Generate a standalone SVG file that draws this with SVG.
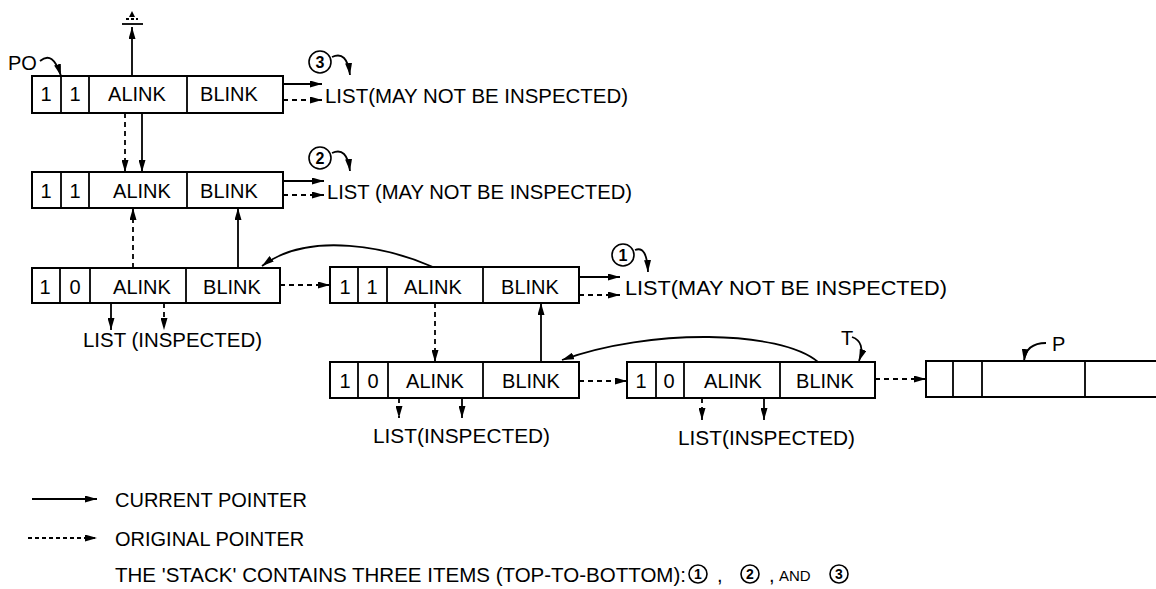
<svg xmlns="http://www.w3.org/2000/svg" width="1156" height="589" viewBox="0 0 1156 589">
<style>
.box{fill:#fff;stroke:#000;stroke-width:2}
.div{stroke:#000;stroke-width:1.8}
.t{font-family:"Liberation Sans",Arial,sans-serif;font-size:20px;fill:#000}
.c{text-anchor:middle}
.s{fill:none;stroke:#000;stroke-width:1.8}
.d{fill:none;stroke:#000;stroke-width:1.8;stroke-dasharray:5 4}
.ar{marker-end:url(#ah)}
.cir{fill:none;stroke:#000;stroke-width:1.6}
.n{font-size:16px;font-weight:bold}
.sn{font-size:14px;font-weight:bold}
</style>
<defs>
<marker id="ah" viewBox="0 0 12 7" refX="12" refY="3.5" markerWidth="12" markerHeight="7" markerUnits="userSpaceOnUse" orient="auto">
<path d="M0,0 L12,3.5 L0,7 Z" fill="#000"/>
</marker>
</defs>

<g id="node-r1">
<rect class="box" x="32" y="76" width="251" height="37"/>
<line class="div" x1="61" y1="76" x2="61" y2="113"/>
<line class="div" x1="89" y1="76" x2="89" y2="113"/>
<line class="div" x1="187" y1="76" x2="187" y2="113"/>
<text class="t c" x="46" y="101">1</text>
<text class="t c" x="75" y="101">1</text>
<text class="t c" x="137" y="101">ALINK</text>
<text class="t c" x="229" y="101">BLINK</text>
</g>

<g id="node-r2">
<rect class="box" x="32" y="172" width="251" height="36"/>
<line class="div" x1="61" y1="172" x2="61" y2="208"/>
<line class="div" x1="89" y1="172" x2="89" y2="208"/>
<line class="div" x1="187" y1="172" x2="187" y2="208"/>
<text class="t c" x="46" y="198">1</text>
<text class="t c" x="75" y="198">1</text>
<text class="t c" x="142" y="198">ALINK</text>
<text class="t c" x="229" y="198">BLINK</text>
</g>

<g id="node-r3l">
<rect class="box" x="32" y="268" width="248" height="35"/>
<line class="div" x1="60" y1="268" x2="60" y2="303"/>
<line class="div" x1="90" y1="268" x2="90" y2="303"/>
<line class="div" x1="186" y1="268" x2="186" y2="303"/>
<text class="t c" x="45" y="294">1</text>
<text class="t c" x="75" y="294">0</text>
<text class="t c" x="142" y="294">ALINK</text>
<text class="t c" x="232" y="294">BLINK</text>
</g>

<g id="node-r3r">
<rect class="box" x="330" y="267" width="249" height="36"/>
<line class="div" x1="358" y1="267" x2="358" y2="303"/>
<line class="div" x1="387" y1="267" x2="387" y2="303"/>
<line class="div" x1="483" y1="267" x2="483" y2="303"/>
<text class="t c" x="345" y="294">1</text>
<text class="t c" x="372" y="294">1</text>
<text class="t c" x="433" y="294">ALINK</text>
<text class="t c" x="530" y="294">BLINK</text>
</g>

<g id="node-r4l">
<rect class="box" x="330" y="362" width="249" height="36"/>
<line class="div" x1="358" y1="362" x2="358" y2="398"/>
<line class="div" x1="388" y1="362" x2="388" y2="398"/>
<line class="div" x1="483" y1="362" x2="483" y2="398"/>
<text class="t c" x="345" y="388">1</text>
<text class="t c" x="373" y="388">0</text>
<text class="t c" x="435" y="388">ALINK</text>
<text class="t c" x="531" y="388">BLINK</text>
</g>

<g id="node-r4r">
<rect class="box" x="627" y="362" width="248" height="36"/>
<line class="div" x1="656" y1="362" x2="656" y2="398"/>
<line class="div" x1="684" y1="362" x2="684" y2="398"/>
<line class="div" x1="780" y1="362" x2="780" y2="398"/>
<text class="t c" x="641" y="388">1</text>
<text class="t c" x="669" y="388">0</text>
<text class="t c" x="733" y="388">ALINK</text>
<text class="t c" x="825" y="388">BLINK</text>
</g>

<g id="node-p">
<rect class="box" x="926" y="361" width="240" height="36"/>
<line class="div" x1="953" y1="361" x2="953" y2="397"/>
<line class="div" x1="982" y1="361" x2="982" y2="397"/>
<line class="div" x1="1085" y1="361" x2="1085" y2="397"/>
</g>

<g id="labels">
<text class="t" x="8" y="70">PO</text>
<text class="t" x="841" y="345">T</text>
<text class="t" x="1052" y="351">P</text>
<circle class="cir" cx="320" cy="62" r="11"/>
<text class="t c n" x="320" y="68">3</text>
<circle class="cir" cx="320" cy="158" r="11"/>
<text class="t c n" x="320" y="164">2</text>
<circle class="cir" cx="623" cy="255" r="11"/>
<text class="t c n" x="623" y="261">1</text>
<text class="t" x="325" y="103" textLength="303" lengthAdjust="spacingAndGlyphs">LIST(MAY NOT BE INSPECTED)</text>
<text class="t" x="327" y="199" textLength="305" lengthAdjust="spacingAndGlyphs">LIST (MAY NOT BE INSPECTED)</text>
<text class="t" x="625" y="295" textLength="322" lengthAdjust="spacingAndGlyphs">LIST(MAY NOT BE INSPECTED)</text>
<text class="t" x="83" y="347" textLength="179" lengthAdjust="spacingAndGlyphs">LIST (INSPECTED)</text>
<text class="t" x="373" y="443" textLength="177" lengthAdjust="spacingAndGlyphs">LIST(INSPECTED)</text>
<text class="t" x="678" y="445" textLength="177" lengthAdjust="spacingAndGlyphs">LIST(INSPECTED)</text>
</g>

<g id="null-symbol">
<line class="s" x1="122" y1="24" x2="143" y2="24"/>
<line class="s" x1="126" y1="19" x2="138" y2="19" style="stroke-dasharray:3 2"/>
<path d="M129,17 L132,11 L135,17 Z" fill="#000"/>
</g>

<g id="connectors">
<line class="s ar" x1="132" y1="76" x2="132" y2="27"/>
<path class="s ar" d="M40,61 Q53,50 61,76"/>
<line class="d ar" x1="125" y1="113" x2="125" y2="172"/>
<line class="s ar" x1="142" y1="113" x2="142" y2="172"/>
<line class="d ar" x1="133" y1="268" x2="133" y2="208"/>
<line class="s ar" x1="238" y1="268" x2="238" y2="208"/>
<line class="s ar" x1="283" y1="84" x2="322" y2="84"/>
<line class="d ar" x1="283" y1="100" x2="322" y2="100"/>
<line class="s ar" x1="283" y1="181" x2="324" y2="181"/>
<line class="d ar" x1="283" y1="195" x2="324" y2="195"/>
<path class="s ar" d="M332,57 Q347,50 350,75"/>
<path class="s ar" d="M332,153 Q347,146 350,171"/>
<path class="s ar" d="M635,250 Q647,245 648,272"/>
<line class="s ar" x1="111" y1="303" x2="111" y2="330"/>
<line class="d ar" x1="164" y1="303" x2="164" y2="330"/>
<line class="d ar" x1="280" y1="285" x2="330" y2="285"/>
<path class="s ar" d="M433,267 C390,248 310,230 262,266"/>
<line class="d ar" x1="435" y1="303" x2="435" y2="362"/>
<line class="s ar" x1="541" y1="362" x2="541" y2="303"/>
<line class="s ar" x1="579" y1="277" x2="620" y2="277"/>
<line class="d ar" x1="579" y1="295" x2="620" y2="295"/>
<line class="d ar" x1="579" y1="381" x2="627" y2="381"/>
<line class="d ar" x1="875" y1="379" x2="926" y2="379"/>
<path class="s ar" d="M818,362 C780,330 650,328 562,360"/>
<line class="d ar" x1="399" y1="398" x2="399" y2="418"/>
<line class="s ar" x1="462" y1="398" x2="462" y2="418"/>
<line class="d ar" x1="702" y1="398" x2="702" y2="420"/>
<line class="s ar" x1="764" y1="398" x2="764" y2="420"/>
<path class="s ar" d="M852,337 Q866,342 859,361"/>
<path class="s ar" d="M1046,343 Q1026,343 1024,361"/>
</g>

<g id="legend">
<line class="s ar" x1="32" y1="499" x2="97" y2="499"/>
<line class="d ar" x1="28" y1="538" x2="97" y2="538" style="stroke-dasharray:4 3"/>
<text class="t" x="115" y="507">CURRENT  POINTER</text>
<text class="t" x="115" y="546">ORIGINAL  POINTER</text>
<text class="t" x="115" y="582" textLength="571" lengthAdjust="spacingAndGlyphs">THE 'STACK' CONTAINS THREE ITEMS (TOP-TO-BOTTOM):</text>
<circle class="cir" cx="698" cy="574" r="9"/>
<text class="t c sn" x="698" y="579">1</text>
<text class="t" x="717" y="582">,</text>
<circle class="cir" cx="750" cy="574" r="9"/>
<text class="t c sn" x="750" y="579">2</text>
<text class="t" x="769" y="582">,</text>
<text class="t" x="779" y="581" style="font-size:15px">AND</text>
<circle class="cir" cx="839" cy="574" r="9"/>
<text class="t c sn" x="839" y="579">3</text>
</g>
</svg>
